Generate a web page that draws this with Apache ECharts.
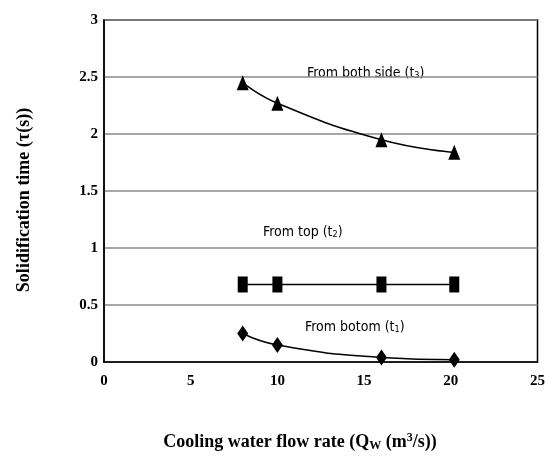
<!DOCTYPE html>
<html><head><meta charset="utf-8">
<script src="https://cdn.jsdelivr.net/npm/echarts@6/dist/echarts.min.js"></script>
<style>html,body{margin:0;padding:0;background:#fff}#c{width:548px;height:466px}</style>
</head><body><div id="c"></div>
<script>
const flowRate = [8, 10, 16, 20.2];
const bothSide = [2.45, 2.27, 1.95, 1.84];
const fromTop = [0.68, 0.68, 0.68, 0.68];
const fromBottom = [0.25, 0.15, 0.04, 0.02];
const xTicks = [0, 5, 10, 15, 20, 25];
const yTicks = [0, 0.5, 1, 1.5, 2, 2.5, 3];

const pair = (ys) => flowRate.map((x, i) => [x, ys[i]]);
const chart = echarts.init(document.getElementById('c'));
const serif = 'Liberation Serif, Times New Roman, serif';
const narrow = 'Liberation Sans Narrow, DejaVu Sans Condensed, sans-serif';
chart.setOption({
  animation: false,
  grid: {left: 104, right: 8, top: 20, bottom: 104, show: true, borderColor: '#000', borderWidth: 1.5},
  xAxis: {type: 'value', min: 0, max: 25, interval: 5,
    axisLine: {show: true, onZero: false, lineStyle: {color: '#000', width: 1.5}},
    axisTick: {show: false}, splitLine: {show: false},
    axisLabel: {margin: 12, color: '#000', fontFamily: serif, fontWeight: 'bold', fontSize: 15}},
  yAxis: {type: 'value', min: 0, max: 3, interval: 0.5,
    axisLine: {show: true, lineStyle: {color: '#000', width: 1.5}},
    axisTick: {show: false},
    splitLine: {show: true, lineStyle: {color: '#888', width: 1.5}},
    axisLabel: {margin: 6, color: '#000', fontFamily: serif, fontWeight: 'bold', fontSize: 15}},
  series: [
    {type: 'line', data: pair(bothSide), smooth: 0.5, symbol: 'triangle', symbolSize: [12, 15],
      lineStyle: {color: '#000', width: 1.5}, itemStyle: {color: '#000'}},
    {type: 'line', data: pair(fromTop), symbol: 'rect', symbolSize: [10, 16],
      lineStyle: {color: '#000', width: 1.5}, itemStyle: {color: '#000'}},
    {type: 'line', data: pair(fromBottom), smooth: 0.5, symbol: 'diamond', symbolSize: [11, 16],
      lineStyle: {color: '#000', width: 1.5}, itemStyle: {color: '#000'}}
  ],
  graphic: [
    {type: 'text', left: 307, top: 66, style: {text: '{a|From both side (t}{s|3}{a|)}', rich: {a: {fontFamily: narrow, fontSize: 14, fill: '#000'}, s: {fontFamily: narrow, fontSize: 9, fill: '#000', padding: [6,0,0,0]}}}},
    {type: 'text', left: 263, top: 225, style: {text: '{a|From top (t}{s|2}{a|)}', rich: {a: {fontFamily: narrow, fontSize: 14, fill: '#000'}, s: {fontFamily: narrow, fontSize: 9, fill: '#000', padding: [6,0,0,0]}}}},
    {type: 'text', left: 305, top: 320, style: {text: '{a|From botom (t}{s|1}{a|)}', rich: {a: {fontFamily: narrow, fontSize: 14, fill: '#000'}, s: {fontFamily: narrow, fontSize: 9, fill: '#000', padding: [6,0,0,0]}}}},
    {type: 'text', x: 24, y: 200, rotation: Math.PI / 2, style: {text: 'Solidification time (τ(s))', font: 'bold 18px ' + serif, fill: '#000', align: 'center', verticalAlign: 'middle'}},
    {type: 'text', x: 300, y: 442, style: {text: '{b|Cooling water flow rate (Q}{s|W}{b| (m}{p|3}{b|/s))}', align: 'center', verticalAlign: 'middle',
      rich: {b: {fontFamily: serif, fontWeight: 'bold', fontSize: 18, fill: '#000'},
             s: {fontFamily: serif, fontWeight: 'bold', fontSize: 12, fill: '#000', padding: [7,0,0,0]},
             p: {fontFamily: serif, fontWeight: 'bold', fontSize: 12, fill: '#000', padding: [0,0,8,0]}}}}
  ]
});
</script></body></html>
